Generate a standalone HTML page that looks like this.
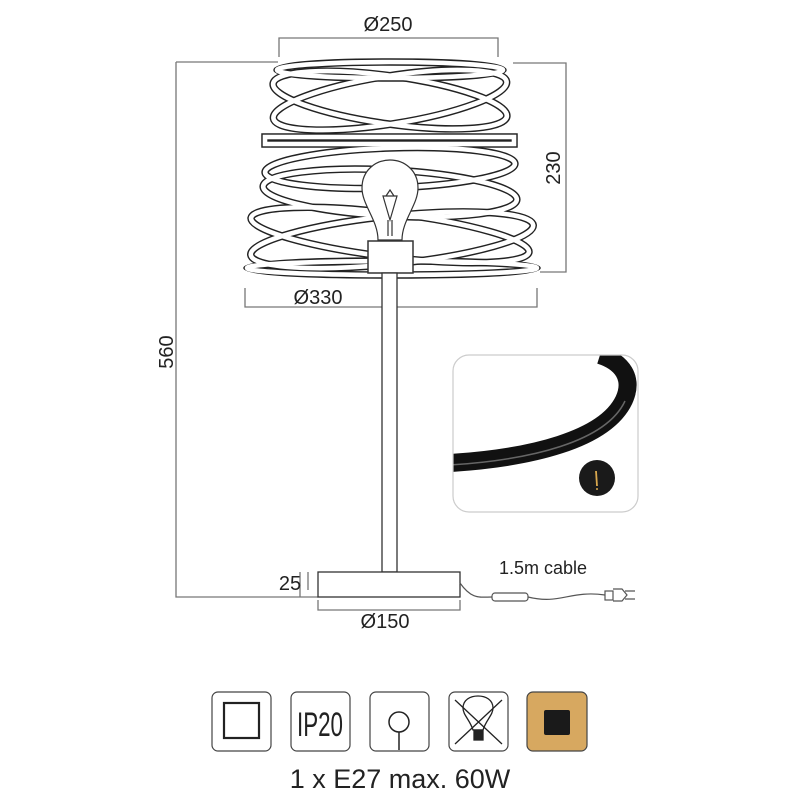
<!DOCTYPE html>
<html><head><meta charset="utf-8"><style>
html,body{margin:0;padding:0;background:#fff;width:800px;height:800px;overflow:hidden}
svg{display:block}
text{font-family:"Liberation Sans",sans-serif;fill:#222}
</style></head><body>
<svg width="800" height="800" viewBox="0 0 800 800" xmlns="http://www.w3.org/2000/svg">
<defs><clipPath id="cp"><rect x="453" y="355" width="185" height="157" rx="16"/></clipPath></defs>
<g stroke="#777" stroke-width="1.3" fill="none">
<path d="M279 57V38H498V57"/>
<path d="M176 62H278M176 62V597H318"/>
<path d="M513 63H566V272H540"/>
<path d="M245 288V307H537V288"/>
<path d="M308 572V590M300 597V572"/>
<path d="M318 600V610H460V600"/>
</g>
<text x="388" y="31" font-size="20" text-anchor="middle">Ø250</text>
<text x="553" y="168" font-size="20" text-anchor="middle" transform="rotate(-90 553 168)" dy="7">230</text>
<text x="166" y="352" font-size="20" text-anchor="middle" transform="rotate(-90 166 352)" dy="7">560</text>
<text x="318" y="304" font-size="20" text-anchor="middle">Ø330</text>
<text x="290" y="590" font-size="20" text-anchor="middle">25</text>
<text x="385" y="628" font-size="20" text-anchor="middle">Ø150</text>
<text x="543" y="574" font-size="18" text-anchor="middle">1.5m cable</text>
<g fill="none">
<g stroke="#222" stroke-width="7.5">
<ellipse cx="390" cy="70" rx="113" ry="8"/>
<ellipse cx="390" cy="100" rx="118" ry="24" transform="rotate(8 390 100)"/>
<ellipse cx="390" cy="100" rx="118" ry="24" transform="rotate(-9 390 100)"/>
<rect x="265" y="137" width="249" height="7"/>
<ellipse cx="390" cy="168" rx="125" ry="20" transform="rotate(-2 390 168)"/>
<ellipse cx="390" cy="193" rx="127" ry="23" transform="rotate(3 390 193)"/>
<ellipse cx="390" cy="235" rx="140" ry="22" transform="rotate(7 390 235)"/>
<ellipse cx="392" cy="240" rx="142" ry="24" transform="rotate(-6 392 240)"/>
<ellipse cx="392" cy="268" rx="145" ry="7"/>
</g>
<g stroke="#fff" stroke-width="4.6">
<ellipse cx="390" cy="70" rx="113" ry="8"/>
<ellipse cx="390" cy="100" rx="118" ry="24" transform="rotate(8 390 100)"/>
<ellipse cx="390" cy="100" rx="118" ry="24" transform="rotate(-9 390 100)"/>
<rect x="265" y="137" width="249" height="7"/>
<ellipse cx="390" cy="168" rx="125" ry="20" transform="rotate(-2 390 168)"/>
<ellipse cx="390" cy="193" rx="127" ry="23" transform="rotate(3 390 193)"/>
<ellipse cx="390" cy="235" rx="140" ry="22" transform="rotate(7 390 235)"/>
<ellipse cx="392" cy="240" rx="142" ry="24" transform="rotate(-6 392 240)"/>
<ellipse cx="392" cy="268" rx="145" ry="7"/>
</g>
</g>
<g stroke="#333" stroke-width="1.2" fill="none">
<path d="M378 240 C378 220 362 205 362 188 C362 170 376 160 390 160 C404 160 418 170 418 188 C418 205 402 220 402 240 Z" fill="#fff"/>
<path d="M383 196 L390 220 L397 196 Z M386 196 L390 190 L394 196 M388 220 V236 M392 220 V236"/>
</g>
<rect x="368" y="241" width="45" height="32" fill="#fff" stroke="#333" stroke-width="1.5"/>
<rect x="382" y="273" width="15" height="299" fill="#fff" stroke="#333" stroke-width="1.3"/>
<rect x="318" y="572" width="142" height="25" fill="#fff" stroke="#333" stroke-width="1.3"/>
<g stroke="#555" stroke-width="1.2" fill="none">
<path d="M460 583 C472 600 480 597 492 597"/>
<rect x="492" y="593" width="36" height="8" rx="3"/>
<path d="M528 597 C560 605 570 590 605 595"/>
<rect x="605" y="591" width="8" height="9"/>
<path d="M613 589 H622 L627 595 L622 601 H613 M625 591H635M625 599H635"/>
</g>
<rect x="453" y="355" width="185" height="157" rx="16" fill="#fff"/>
<g clip-path="url(#cp)">
<path d="M450 463 C530 458 605 440 624 400 C634 378 622 362 600 355" fill="none" stroke="#111" stroke-width="18"/>
<path d="M450 465 C530 460 606 442 625 401" fill="none" stroke="#666" stroke-width="1.5"/>
</g>
<rect x="453" y="355" width="185" height="157" rx="16" fill="none" stroke="#ccc" stroke-width="1.2"/>
<circle cx="597" cy="478" r="18" fill="#1a1a1a"/>
<path d="M596 471 L597 486" stroke="#d9a84e" stroke-width="1.8"/>
<circle cx="597" cy="489" r="1" fill="#d9a84e"/>
<g stroke="#444" stroke-width="1.2" fill="#fff">
<rect x="212" y="692" width="59" height="59" rx="6"/>
<rect x="291" y="692" width="59" height="59" rx="6"/>
<rect x="370" y="692" width="59" height="59" rx="6"/>
<rect x="449" y="692" width="59" height="59" rx="6"/>
<rect x="527" y="692" width="60" height="59" rx="6" fill="#d7a860"/>
</g>
<rect x="224" y="703" width="35" height="35" fill="none" stroke="#222" stroke-width="2.2"/>
<text x="320" y="736" font-size="34" text-anchor="middle" fill="#222" textLength="46" lengthAdjust="spacingAndGlyphs">IP20</text>
<circle cx="399" cy="722" r="10" fill="none" stroke="#222" stroke-width="1.5"/>
<path d="M399 732V750" stroke="#222" stroke-width="1.5"/>
<g stroke="#222" stroke-width="1.3" fill="none">
<path d="M473 730 C470 720 463 715 463 708 C463 700 470 696 478 696 C486 696 493 700 493 708 C493 715 486 720 483 730 Z"/>
<rect x="474" y="730" width="9" height="10" fill="#222"/>
<path d="M455 700 L502 744 M502 700 L455 744"/>
</g>
<rect x="544" y="710" width="26" height="25" rx="2" fill="#1a1a1a"/>
<text x="400" y="788" font-size="27" text-anchor="middle" fill="#222">1 x E27 max. 60W</text>
</svg>
</body></html>
